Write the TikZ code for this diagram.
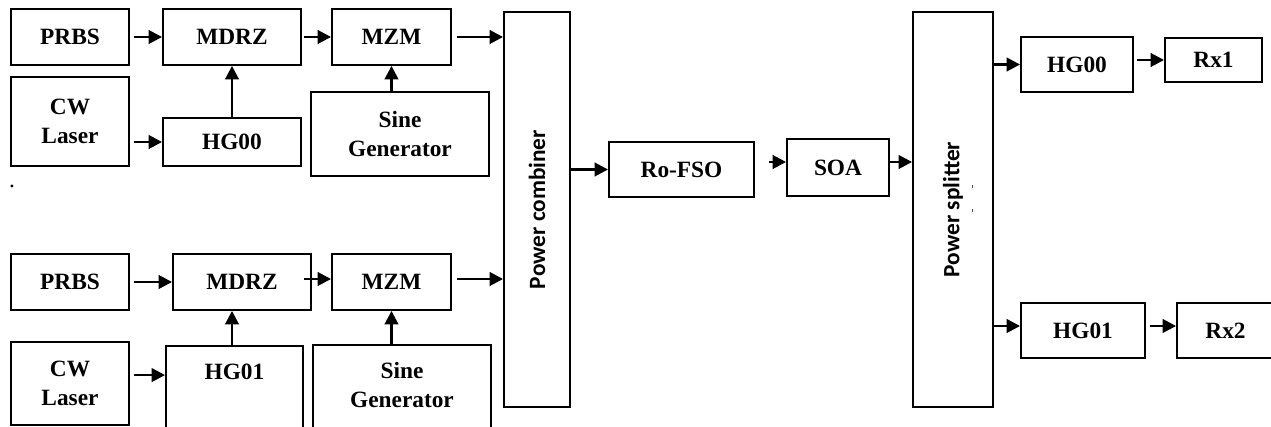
\documentclass[tikz,border=0pt]{standalone}
\usepackage{fontspec}
\setmainfont{Liberation Serif}
\newfontfamily\calfont{Carlito}
\usetikzlibrary{arrows.meta,calc}

\tikzset{
  blk/.style={draw, line width=1.4pt, rectangle, inner sep=0pt, align=center,
              font=\fontsize{17.5}{21.5}\selectfont\bfseries},
  lbl/.style={inner sep=0pt, align=center, font=\fontsize{17.5}{21.5}\selectfont\bfseries},
  arr/.style={line width=2pt, -{Triangle[length=10pt,width=10pt]}},
}

% box from corner (x1,y1) to corner (x2,y2), in pixel units
\newcommand\blkat[6]{%
  \node[blk, minimum width={(#4-#2)*0.75pt}, minimum height={(#5-#3)*0.75pt}]
    (#1) at ({(#2+#4)/2},{(#3+#5)/2}) {#6};}

\begin{document}
\begin{tikzpicture}[x=0.75pt, y=-0.75pt]
\useasboundingbox (0,0) rectangle (1271,427);
\clip (0,0) rectangle (1271,427);

% upper transmitter branch
\blkat{prbsA}{11}{9}{129}{65}{PRBS}
\blkat{mdrzA}{163}{9}{301}{65}{MDRZ}
\blkat{mzmA}{332}{9}{451}{65}{MZM}
\blkat{cwA}{11}{77}{129}{166}{CW\\Laser}
\blkat{hgA}{163}{118}{301}{166}{HG00}
\blkat{sinA}{311}{92}{489}{176}{Sine\\Generator}

% lower transmitter branch
\blkat{prbsB}{11}{254}{129}{310}{PRBS}
\blkat{mdrzB}{173}{254}{311}{310}{MDRZ}
\blkat{mzmB}{332}{254}{451}{310}{MZM}
\blkat{cwB}{11}{342}{129}{425}{CW\\Laser}
\blkat{hgB}{166}{346}{303}{445}{}
\node[lbl] (hgBtxt) at (234.5,372) {HG01};
\blkat{sinB}{313}{345}{491}{445}{}
\node[lbl] (sinBtxt) at (402,385) {Sine\\Generator};

% combiner, link and splitter
\blkat{comb}{504}{12}{570}{407}{\rotatebox{90}{\calfont\bfseries Power combiner}}
\blkat{ro}{609}{142}{754}{197}{Ro-FSO}
\blkat{soa}{787}{139}{889}{196}{SOA}
\blkat{split}{913}{12}{993}{407}{\rotatebox{90}{\calfont\bfseries Power splitter}}

% receivers
\blkat{hgR0}{1021}{37}{1133}{92}{HG00}
\blkat{rx1}{1165}{38}{1262}{82}{Rx1}
\blkat{hgR1}{1021}{303}{1145}{358}{HG01}
\blkat{rx2}{1177}{303}{1274}{358}{Rx2}

\node[lbl, anchor=base, font=\fontsize{17.5}{21.5}\selectfont] (dot) at (12,188) {.};
\draw[line width=0.6pt, black!70] (972,185) -- (972,188) (972,209) -- (972,212);

% helper points for offset connectors
\coordinate (soaIn)  at ($(soa.west)+(0,-5.5)$);
\coordinate (soaOut) at ($(soa.east)+(0,-5.5)$);
\coordinate (hgR1In) at ($(hgR1.west)+(0,-4.5)$);
\coordinate (rx2In)  at ($(rx2.west)+(0,-4.5)$);
\coordinate (mzmBIn) at ($(mzmB.west)+(0,-3)$);
\coordinate (hgBIn)  at ($(hgB.north west)+(0,30)$);
\coordinate (hgBUp)  at ($(hgB.north)+(-2.5,0)$);

% upper branch connectors
\draw[arr, shorten <=3pt] (prbsA.east) -- (prbsA.east -| mdrzA.west);
\draw[arr, shorten <=3pt] (cwA.east |- hgA.west) -- (hgA.west);
\draw[arr] (hgA.north) -- (mdrzA.south);
\draw[arr, shorten <=1.5pt] (mdrzA.east) -- (mdrzA.east -| mzmA.west);
\draw[arr, shorten <=3.75pt] (mzmA.east) -- (mzmA.east -| comb.west);
\draw[arr] (mzmA.south |- sinA.north) -- (mzmA.south);

% lower branch connectors
\draw[arr, shorten <=3pt] (prbsB.east) -- (prbsB.east -| mdrzB.west);
\draw[arr, shorten <=-6pt] (mzmBIn -| mdrzB.east) -- (mzmBIn);
\draw[arr, shorten <=3.75pt] (mzmBIn -| mzmB.east) -- (mzmBIn -| comb.west);
\draw[arr, shorten <=3pt] (cwB.east |- hgBIn) -- (hgBIn);
\draw[arr] (hgBUp) -- (hgBUp |- mdrzB.south);
\draw[arr] (mzmB.south |- sinB.north) -- (mzmB.south);

% link connectors
\draw[arr] (comb.east |- ro.west) -- (ro.west);
\draw[arr, shorten <=10.5pt] (ro.east |- soaIn) -- (soaIn);
\draw[arr] (soaOut) -- (soaOut -| split.west);

% receiver connectors
\draw[arr] (split.east |- hgR0.west) -- (hgR0.west);
\draw[arr, shorten <=2.25pt] (hgR0.east |- rx1.west) -- (rx1.west);
\draw[arr] (split.east |- hgR1In) -- (hgR1In);
\draw[arr, shorten <=3pt] (hgR1.east |- rx2In) -- (rx2In);
\end{tikzpicture}
\end{document}
